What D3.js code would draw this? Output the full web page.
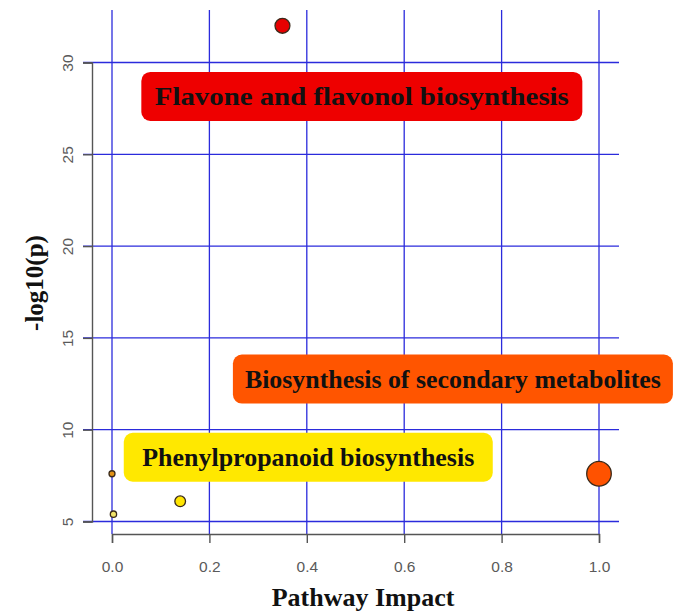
<!DOCTYPE html>
<html>
<head>
<meta charset="utf-8">
<script src="https://cdn.jsdelivr.net/npm/d3@7"></script>
<style>
  body { margin: 0; background: #fff; }
</style>
</head>
<body>
<div class="container"></div>
<script>
// pathway points (impact vs -log10 p)
const pathways = [
  "Flavone and flavonol biosynthesis",
  "Biosynthesis of secondary metabolites",
  "Phenylpropanoid biosynthesis",
  "Pathway 4",
  "Pathway 5",
];
const impact = [0.35, 1.0, 0.14, 0.0, 0.003];
const logP = [32.0, 7.6, 6.1, 7.6, 5.4];
const pointColors = ["#e60000", "#ff5200", "#ffe500", "#e39316", "#f1e36a"];

// highlighted labels, anchored in data units
const labelText = [
  "Flavone  and  flavonol  biosynthesis",
  "Biosynthesis of secondary metabolites",
  "Phenylpropanoid biosynthesis",
];
const labelX = [0.513, 0.700, 0.403];
const labelY = [28.15, 12.76, 8.5];
const labelColors = ["#ee0000", "#ff5500", "#ffe800"];
const labelTextWidth = [414, 416, 332];
const labelBoxWidth = [441, 440, 369];

const xTicks = [0, 0.2, 0.4, 0.6, 0.8, 1.0];
const yTicks = [5, 10, 15, 20, 25, 30];

const width = 675;
const height = 614;

const svg = d3
  .select(".container")
  .append("svg")
  .attr("width", width)
  .attr("height", height);

const xScale = d3.scaleLinear().domain([0, 1]).range([112, 599]);
const yScale = d3.scaleLinear().domain([5, 30]).range([521.5, 62.5]);
const rScale = d3.scalePow().exponent(0.7).domain([0, 1]).range([3, 12.3]);

const xAxisY = 534;
const yAxisX = 92;

// grid
const grid = svg.append("g").attr("stroke", "#2b2bdc").attr("stroke-width", 1.3);
grid
  .selectAll("line.v")
  .data(xTicks)
  .enter()
  .append("line")
  .attr("x1", (d) => xScale(d))
  .attr("x2", (d) => xScale(d))
  .attr("y1", 10)
  .attr("y2", xAxisY);
grid
  .selectAll("line.h")
  .data(yTicks)
  .enter()
  .append("line")
  .attr("x1", 83)
  .attr("x2", 619)
  .attr("y1", (d) => yScale(d))
  .attr("y2", (d) => yScale(d));

// axes
const xAxis = d3
  .axisBottom(xScale)
  .tickValues(xTicks)
  .tickFormat(d3.format(".1f"))
  .tickSizeInner(9)
  .tickSizeOuter(9);
const gx = svg
  .append("g")
  .attr("transform", `translate(0,${xAxisY})`)
  .call(xAxis);

const yAxis = d3
  .axisLeft(yScale)
  .tickValues(yTicks)
  .tickSizeInner(9)
  .tickSizeOuter(9);
const gy = svg
  .append("g")
  .attr("transform", `translate(${yAxisX},0)`)
  .call(yAxis);

[gx, gy].forEach((g) => {
  g.selectAll("path, line").attr("stroke", "#555").attr("stroke-width", 1.4);
  g.selectAll("text")
    .attr("fill", "#5a5a5a")
    .style("font-family", "Liberation Sans, Arial, sans-serif")
    .style("font-size", "15.5px");
});
gx.selectAll("text").attr("y", 38).attr("dy", null);
gy.selectAll("text")
  .attr("x", 0)
  .attr("y", -19.5)
  .attr("dy", null)
  .attr("text-anchor", "middle")
  .attr("transform", "rotate(-90)");

// points
const points = pathways.map((name, i) => ({
  name,
  x: impact[i],
  y: logP[i],
  color: pointColors[i],
}));

svg
  .selectAll("circle")
  .data(points)
  .enter()
  .append("circle")
  .attr("cx", (d) => xScale(d.x))
  .attr("cy", (d) => yScale(d.y))
  .attr("r", (d) => rScale(d.x))
  .attr("fill", (d) => d.color)
  .attr("stroke", "#3a2a1a")
  .attr("stroke-width", 1.3);

// label boxes
const labels = labelText.map((t, i) => ({
  t,
  x: labelX[i],
  y: labelY[i],
  color: labelColors[i],
  tw: labelTextWidth[i],
  bw: labelBoxWidth[i],
}));

const lg = svg
  .selectAll("g.label")
  .data(labels)
  .enter()
  .append("g")
  .attr("class", "label")
  .attr("transform", (d) => `translate(${xScale(d.x)},${yScale(d.y)})`);

lg.append("rect")
  .attr("fill", (d) => d.color)
  .attr("rx", 9)
  .attr("ry", 9)
  .attr("x", (d) => -d.bw / 2)
  .attr("y", -24.5)
  .attr("width", (d) => d.bw)
  .attr("height", 49);

lg.append("text")
  .attr("text-anchor", "middle")
  .attr("dy", "0.34em")
  .attr("textLength", (d) => d.tw)
  .attr("lengthAdjust", "spacingAndGlyphs")
  .style("font-family", "Liberation Serif, 'Times New Roman', serif")
  .style("font-weight", "bold")
  .style("font-size", "26px")
  .attr("fill", "#111")
  .text((d) => d.t);

// axis titles
svg
  .append("text")
  .attr("x", 363)
  .attr("y", 606)
  .attr("text-anchor", "middle")
  .style("font-family", "Liberation Serif, 'Times New Roman', serif")
  .style("font-weight", "bold")
  .style("font-size", "26px")
  .attr("fill", "#111")
  .text("Pathway Impact");

svg
  .append("text")
  .attr("transform", "translate(43,283) rotate(-90)")
  .attr("text-anchor", "middle")
  .style("font-family", "Liberation Serif, 'Times New Roman', serif")
  .style("font-weight", "bold")
  .style("font-size", "25px")
  .attr("fill", "#111")
  .text("-log10(p)");
</script>
</body>
</html>
